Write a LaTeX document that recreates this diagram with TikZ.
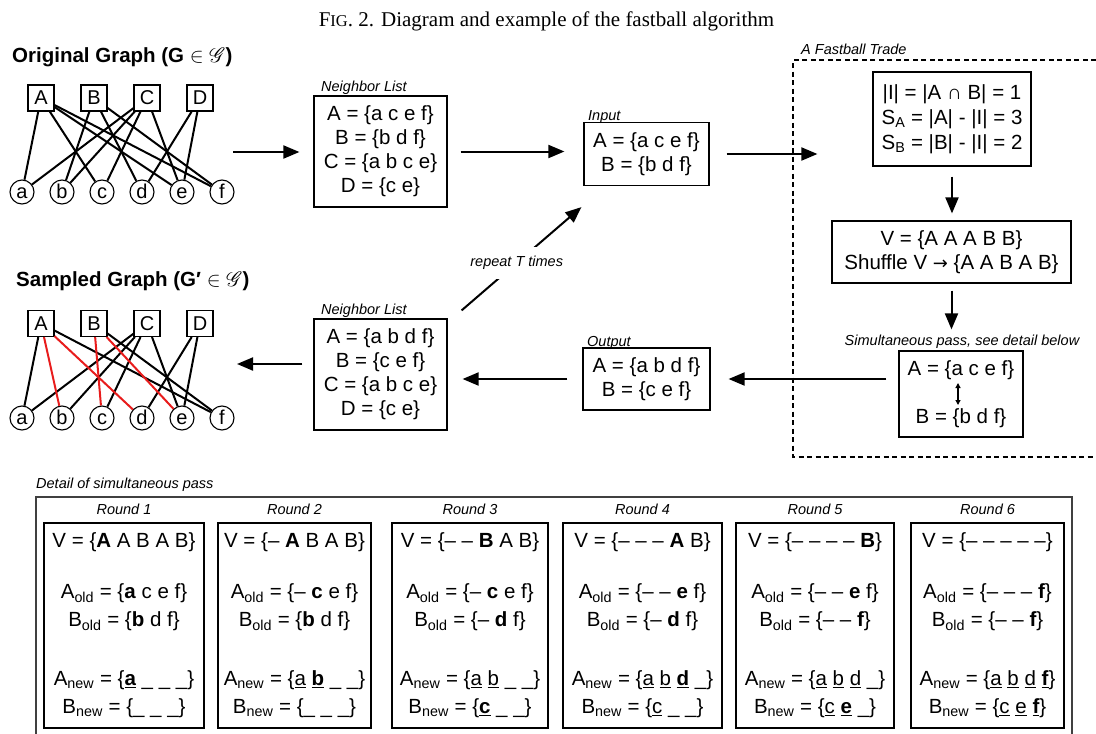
\documentclass[tikz,border=0pt]{standalone}
\usepackage{fontspec}
\setmainfont{Liberation Sans}
\newfontfamily\serifface{Liberation Serif}
\newfontfamily\djvface{DejaVu Sans}
\usepackage{mathrsfs}
\usetikzlibrary{arrows.meta}
\definecolor{myred}{RGB}{232,28,28}
\newcommand\mainfs{\fontsize{20.5pt}{24pt}\selectfont}
\newcommand\labfs{\fontsize{14.5pt}{17pt}\selectfont}
\newcommand\gfs{\fontsize{20pt}{24pt}\selectfont}
\tikzset{
  box/.style={draw, line width=1.2pt, align=center, inner sep=0pt, font=\mainfs},
  rbox/.style={draw, line width=1.2pt, align=center, inner sep=0pt, minimum height=205pt,
    font=\fontsize{20.5pt}{28pt}\selectfont},
  lab/.style={font=\labfs\itshape, inner sep=0pt, anchor=base west},
  rlab/.style={font=\labfs\itshape, inner sep=0pt, anchor=base},
  arr/.style={line width=2pt, -{Triangle[length=16pt,width=13pt]}},
  gbox/.style={draw, line width=1.1pt, minimum size=26pt, inner sep=0pt, font=\gfs},
  gcirc/.style={draw, circle, line width=1.1pt, minimum size=24pt, inner sep=0pt, font=\gfs,
    text height=12pt, text depth=0pt},
  gedge/.style={line width=2pt},
  redge/.style={line width=2pt, draw=myred},
  gtitle/.style={font=\bfseries\fontsize{20.5pt}{24pt}\selectfont, anchor=base west, inner sep=0pt},
}
\begin{document}
\begin{tikzpicture}[x=1pt,y=-1pt]
\useasboundingbox (0,0) rectangle (1096,734);

% title
\node[font=\serifface\fontsize{21pt}{21pt}\selectfont, anchor=base, inner sep=0pt] (title) at (546.5,26)
  {F{\fontsize{16.5pt}{16.5pt}\selectfont IG}. 2. Diagram and example of the fastball algorithm};

% ---------- original graph ----------
\node[gtitle] (t1) at (12,62) {Original Graph (G $\in\mathscr{G}$)};
\foreach \n/\x in {A/41,B/94,C/147,D/200} \node[gbox] (\n1) at (\x,98) {\n};
\foreach \n/\x in {a/22,b/62,c/102,d/142,e/182,f/222} \node[gcirc] (\n1) at (\x,192) {\n};
\foreach \u/\v in {A/a,A/c,A/e,A/f,B/b,B/d,B/f,C/a,C/b,C/c,C/e,D/d,D/e}
  \draw[gedge] (\u1) -- (\v1);

% ---------- sampled graph ----------
\node[gtitle] (t2) at (16,286) {Sampled Graph (G′ $\in\mathscr{G}$)};
\foreach \n/\x in {A/41,B/94,C/147,D/200} \node[gbox] (\n2) at (\x,323.5) {\n};
\foreach \n/\x in {a/22,b/62,c/102,d/142,e/182,f/222} \node[gcirc] (\n2) at (\x,418) {\n};
\foreach \u/\v in {A/a,A/f,B/f,C/a,C/b,C/c,C/e,D/d,D/e}
  \draw[gedge] (\u2) -- (\v2);
\foreach \u/\v in {A/b,A/d,B/c,B/e}
  \draw[redge] (\u2) -- (\v2);

% ---------- neighbor lists, input, output ----------
\node[box, minimum width=133pt, minimum height=111pt] (NL1) at (380.5,151.5)
  {A = \{a c e f\}\\B = \{b d f\}\\C = \{a b c e\}\\D = \{c e\}};
\node[lab] (NL1lab) at (321,91) {Neighbor List};

\node[box, minimum width=125pt, minimum height=63pt] (IN) at (646.5,154)
  {A = \{a c e f\}\\B = \{b d f\}};
\node[lab] (INlab) at (588,120) {Input};

\node[box, minimum width=133pt, minimum height=111pt] (NL2) at (380.5,374.5)
  {A = \{a b d f\}\\B = \{c e f\}\\C = \{a b c e\}\\D = \{c e\}};
\node[lab] (NL2lab) at (321,314) {Neighbor List};

\node[box, minimum width=127pt, minimum height=62pt] (OUT) at (646.5,379)
  {A = \{a b d f\}\\B = \{c e f\}};
\node[lab] (OUTlab) at (587,346) {Output};

% ---------- fastball trade ----------
\draw[line width=1.2pt, dash pattern=on 5pt off 3.5pt] (1096,60) -- (793,60) -- (793,457) -- (1096,457);
\node[lab] (FTlab) at (801,54) {A Fastball Trade};

\node[box, minimum width=158pt, minimum height=94pt, font=\fontsize{20.5pt}{25pt}\selectfont] (T1) at (952,119)
  {|I| = |A ∩ B| = 1\\S\textsubscript{A} = |A| - |I| = 3\\S\textsubscript{B} = |B| - |I| = 2};
\node[box, minimum width=239pt, minimum height=62pt] (T2) at (951.5,252)
  {V = \{A A A B B\}\\Shuffle V {\djvface\fontsize{18pt}{18pt}\selectfont →} \{A A B A B\}};
\node[rlab] (T3lab) at (962,345) {Simultaneous pass, see detail below};
\node[box, minimum width=124pt, minimum height=86pt] (T3) at (961,394)
  {A = \{a c e f\}\\[24pt]B = \{b d f\}};
\coordinate (sw1) at ([shift={(-3,-11)}]T3.center);
\coordinate (sw2) at ([shift={(-3,11)}]T3.center);
\draw[line width=1.2pt, {Triangle[length=5pt,width=5pt]}-{Triangle[length=5pt,width=5pt]}] (sw1) -- (sw2);

% ---------- connectors ----------
\coordinate (g1out) at (233,152);
\coordinate (g2in) at (237,364);
\draw[arr, shorten >=14pt] (g1out) -- (g1out -| NL1.west);
\draw[arr, shorten <=13pt, shorten >=19pt] (NL1.east) -- (NL1.east -| IN.west);
\draw[arr, shorten <=17pt, shorten >=55pt] (IN.east) -- (IN.east -| T1.west);
\draw[arr, shorten <=10pt, shorten >=7pt] (T1.south) -- (T1.south |- T2.north);
\draw[arr, shorten <=7pt, shorten >=21pt] (T2.south) -- (T2.south |- T3.north);
\draw[arr, shorten <=12pt, shorten >=18pt] (T3.west |- OUT.east) -- (OUT.east);
\draw[arr, shorten <=15pt, shorten >=15pt] (OUT.west) -- (OUT.west -| NL2.east);
\draw[arr, shorten <=11pt] (NL2.west |- g2in) -- (g2in);
\coordinate (rs) at ([shift={(14,-8)}]NL2.north east);
\coordinate (re) at ([shift={(-2,21)}]IN.south west);
\draw[arr] (rs) -- node[pos=0.46, fill=white, inner xsep=1pt, inner ysep=9pt, font=\labfs\itshape] {repeat T times} (re);

% ---------- detail of simultaneous pass ----------
\node[lab] (DLlab) at (36,488) {Detail of simultaneous pass};
\draw[line width=1.3pt, black!75] (36,734) -- (36,497) -- (1072,497) -- (1072,734);

\node[rbox, minimum width=160pt] (R1) at (124,625.5)
  {V = \{\textbf{A} A B A B\}\\[23pt]
   A\textsubscript{old} = \{\textbf{a} c e f\}\\
   B\textsubscript{old} = \{\textbf{b} d f\}\\[31pt]
   A\textsubscript{new} = \{\underline{\textbf{a}} \_ \_ \_\}\\
   B\textsubscript{new} = \{\_ \_ \_\}};
\node[rbox, minimum width=153pt] (R2) at (294.5,625.5)
  {V = \{– \textbf{A} B A B\}\\[23pt]
   A\textsubscript{old} = \{– \textbf{c} e f\}\\
   B\textsubscript{old} = \{\textbf{b} d f\}\\[31pt]
   A\textsubscript{new} = \{\underline{a} \underline{\textbf{b}} \_ \_\}\\
   B\textsubscript{new} = \{\_ \_ \_\}};
\node[rbox, minimum width=156pt] (R3) at (470,625.5)
  {V = \{– – \textbf{B} A B\}\\[23pt]
   A\textsubscript{old} = \{– \textbf{c} e f\}\\
   B\textsubscript{old} = \{– \textbf{d} f\}\\[31pt]
   A\textsubscript{new} = \{\underline{a} \underline{b} \_ \_\}\\
   B\textsubscript{new} = \{\underline{\textbf{c}} \_ \_\}};
\node[rbox, minimum width=159pt] (R4) at (642.5,625.5)
  {V = \{– – – \textbf{A} B\}\\[23pt]
   A\textsubscript{old} = \{– – \textbf{e} f\}\\
   B\textsubscript{old} = \{– \textbf{d} f\}\\[31pt]
   A\textsubscript{new} = \{\underline{a} \underline{b} \underline{\textbf{d}} \_\}\\
   B\textsubscript{new} = \{\underline{c} \_ \_\}};
\node[rbox, minimum width=158pt] (R5) at (815,625.5)
  {V = \{– – – – \textbf{B}\}\\[23pt]
   A\textsubscript{old} = \{– – \textbf{e} f\}\\
   B\textsubscript{old} = \{– – \textbf{f}\}\\[31pt]
   A\textsubscript{new} = \{\underline{a} \underline{b} \underline{d} \_\}\\
   B\textsubscript{new} = \{\underline{c} \underline{\textbf{e}} \_\}};
\node[rbox, minimum width=153pt] (R6) at (987.5,625.5)
  {V = \{– – – – –\}\\[23pt]
   A\textsubscript{old} = \{– – – \textbf{f}\}\\
   B\textsubscript{old} = \{– – \textbf{f}\}\\[31pt]
   A\textsubscript{new} = \{\underline{a} \underline{b} \underline{d} \underline{\textbf{f}}\}\\
   B\textsubscript{new} = \{\underline{c} \underline{e} \underline{\textbf{f}}\}};
\foreach \i in {1,...,6}
  \node[rlab] (RL\i) at ([yshift=8pt]R\i.north) {Round \i};
\end{tikzpicture}
\end{document}
